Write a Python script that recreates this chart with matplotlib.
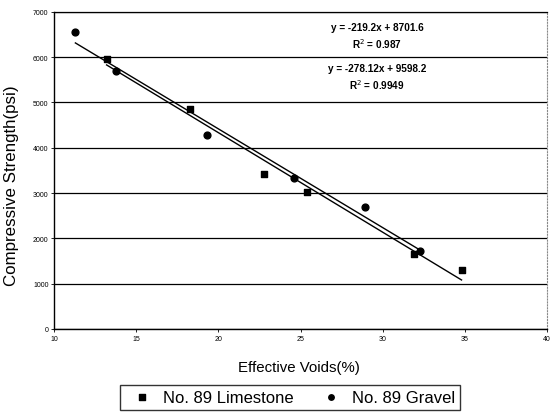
import numpy as np
import matplotlib
matplotlib.use('Agg')
import matplotlib.pyplot as plt

plt.rcParams['font.family'] = ['Liberation Sans', 'DejaVu Sans']

# No. 89 Limestone
lime_voids = [13.2, 18.3, 22.8, 25.4, 31.9, 34.8]
lime_strength = [5950, 4850, 3410, 3030, 1650, 1310]
# No. 89 Gravel
grav_voids = [11.3, 13.8, 19.3, 24.6, 28.9, 32.3]
grav_strength = [6550, 5700, 4280, 3330, 2690, 1730]

eq_text = ['y = -219.2x + 8701.6\nR$^2$ = 0.987',
           'y = -278.12x + 9598.2\nR$^2$ = 0.9949']

fig = plt.figure(figsize=(5.57, 4.14), dpi=100)
ax = fig.add_axes([0.097, 0.203, 0.885, 0.766])

ax.scatter(lime_voids, lime_strength, marker='s', s=22, color='black',
           label='No. 89 Limestone', zorder=3)
ax.scatter(grav_voids, grav_strength, marker='o', s=24, color='black',
           label='No. 89 Gravel', zorder=3)

# linear trendlines over each series' range
for xs, ys in [(lime_voids, lime_strength), (grav_voids, grav_strength)]:
    k, b = np.polyfit(xs, ys, 1)
    xx = np.array([min(xs), max(xs)])
    ax.plot(xx, k * xx + b, color='black', lw=1.0, zorder=2)

ax.set_xlim(10, 40)
ax.set_ylim(0, 7000)
ax.set_xticks(range(10, 41, 5))
ax.set_yticks(range(0, 7001, 1000))
ax.tick_params(labelsize=5, length=2, width=0.6, pad=2)
ax.yaxis.grid(True, color='black', lw=0.9)
ax.set_axisbelow(True)

ax.spines['top'].set_linewidth(0.9)
ax.spines['right'].set_color('#888888')
ax.spines['right'].set_linestyle(':')
ax.spines['left'].set_linewidth(1.0)
ax.spines['bottom'].set_linewidth(1.0)

ax.text(0.655, 0.968, eq_text[0], transform=ax.transAxes, ha='center', va='top',
        fontsize=7.2, fontweight='bold', linespacing=1.35)
ax.text(0.655, 0.84, eq_text[1], transform=ax.transAxes, ha='center', va='top',
        fontsize=7.2, fontweight='bold', linespacing=1.35)

ax.set_xlabel('Effective Voids(%)', fontsize=10.8)
ax.xaxis.set_label_coords(0.497, -0.098)
ax.set_ylabel('Compressive Strength(psi)', fontsize=12.2)
ax.yaxis.set_label_coords(-0.072, 0.454)

leg = fig.legend(loc='center', bbox_to_anchor=(0.521, 0.038), ncol=2,
                 fontsize=12, frameon=True, fancybox=False, edgecolor='black',
                 handletextpad=0.3, columnspacing=1.2, markerscale=0.8,
                 borderpad=0.3)
leg.get_frame().set_linewidth(1.0)

fig.savefig('out.png', dpi=100)
